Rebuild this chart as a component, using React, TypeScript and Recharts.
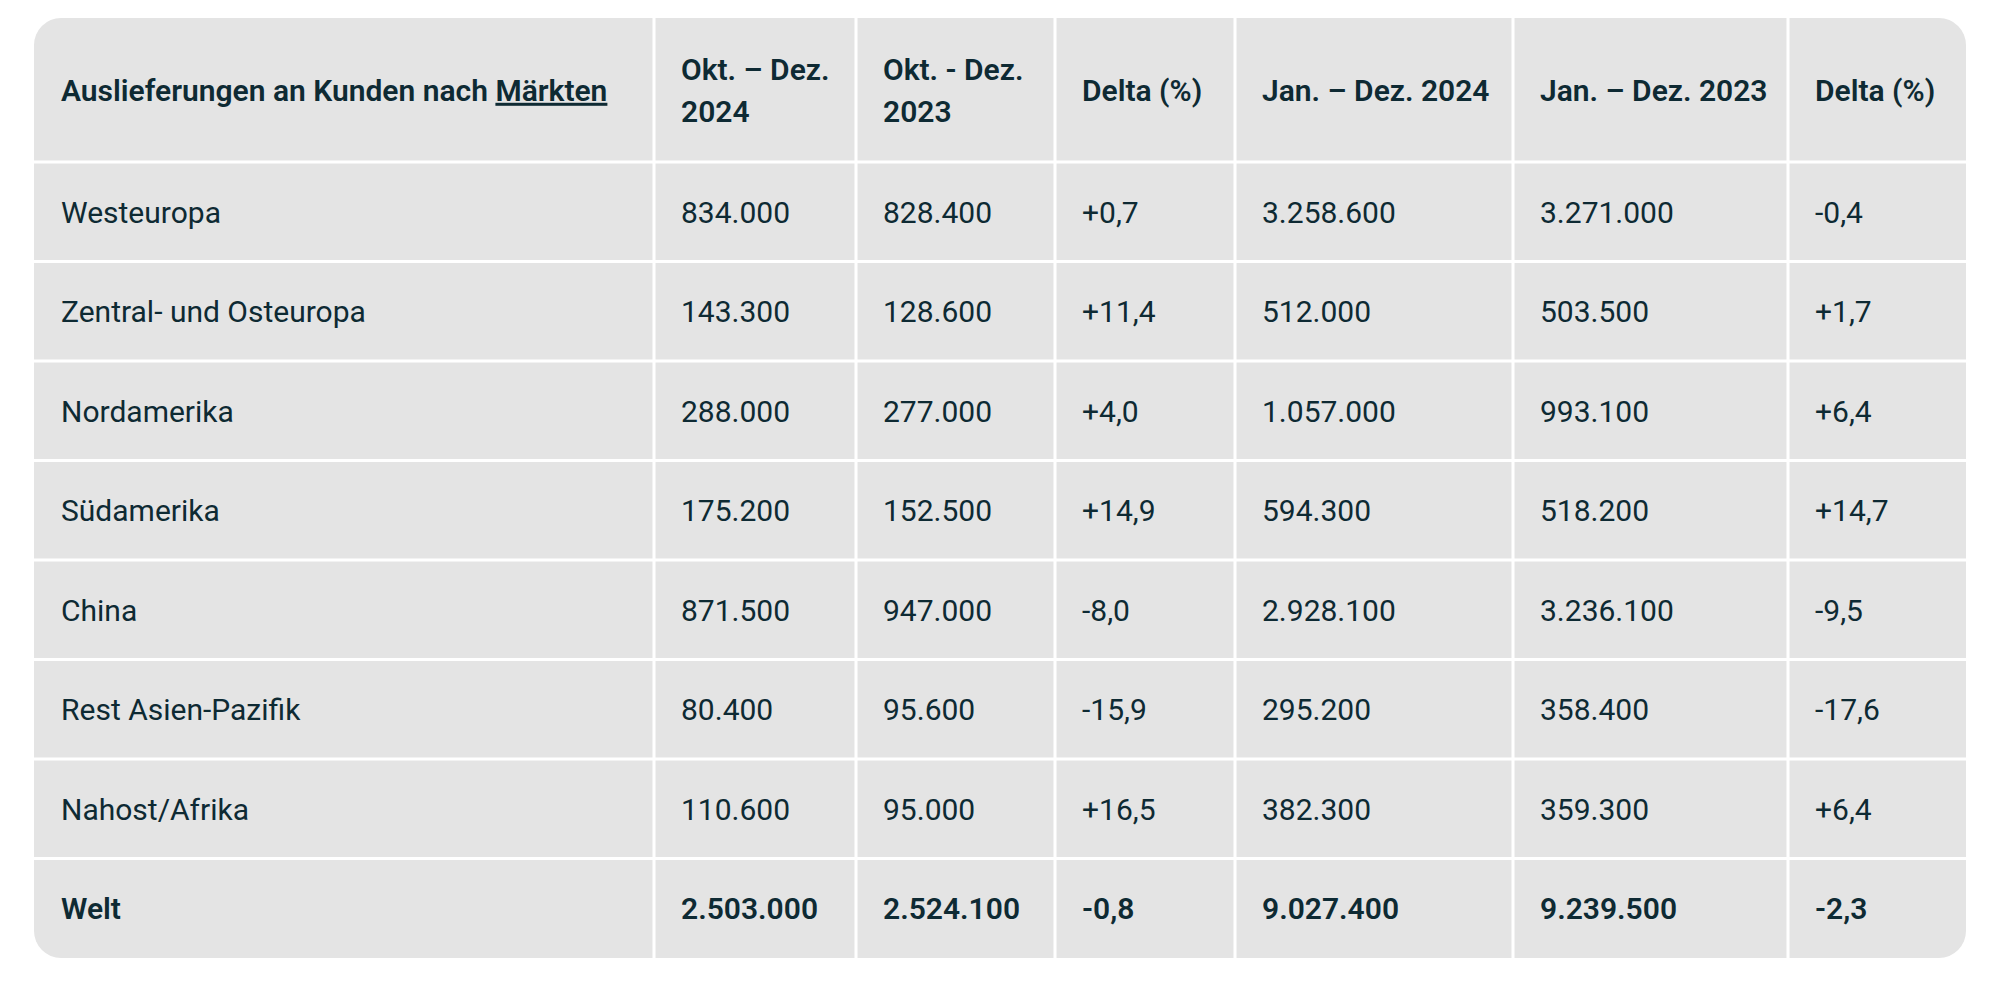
import { ScatterChart, Scatter, XAxis, YAxis, ReferenceArea, ReferenceLine } from "recharts";

// ---- data ----
const MARKETS = [
  "Westeuropa",
  "Zentral- und Osteuropa",
  "Nordamerika",
  "Südamerika",
  "China",
  "Rest Asien-Pazifik",
  "Nahost/Afrika",
];
const TOTAL_LABEL = "Welt";

const Q4_2024 = [834000, 143300, 288000, 175200, 871500, 80400, 110600];
const Q4_2023 = [828400, 128600, 277000, 152500, 947000, 95600, 95000];
const DELTA_Q4 = [0.7, 11.4, 4.0, 14.9, -8.0, -15.9, 16.5];
const FY_2024 = [3258600, 512000, 1057000, 594300, 2928100, 295200, 382300];
const FY_2023 = [3271000, 503500, 993100, 518200, 3236100, 358400, 359300];
const DELTA_FY = [-0.4, 1.7, 6.4, 14.7, -9.5, -17.6, 6.4];

const TOTAL_Q4_2024 = 2503000;
const TOTAL_Q4_2023 = 2524100;
const TOTAL_DELTA_Q4 = -0.8;
const TOTAL_FY_2024 = 9027400;
const TOTAL_FY_2023 = 9239500;
const TOTAL_DELTA_FY = -2.3;

const HEADERS = [
  ["Auslieferungen an Kunden nach Märkten"],
  ["Okt. – Dez.", "2024"],
  ["Okt. - Dez.", "2023"],
  ["Delta (%)"],
  ["Jan. – Dez. 2024"],
  ["Jan. – Dez. 2023"],
  ["Delta (%)"],
];
const UNDERLINED = "Märkten";

// ---- layout / style ----
const W = 2000;
const H = 986;
const MARGIN = { top: 18, right: 34, bottom: 28, left: 34 };
const COL_WIDTHS = [620, 202, 199, 180, 278, 275, 178];
const HEADER_H = 144;
const ROW_H = 99.5;
const PAD = 27;
const FONT = 30;
const LINE_H = 42;
const INK = "#0e2a33";
const BG = "#e4e4e4";

const TABLE_W = COL_WIDTHS.reduce((a, b) => a + b, 0);
const N_ROWS = MARKETS.length + 1;
const TABLE_H = HEADER_H + ROW_H * N_ROWS;

const colStarts = COL_WIDTHS.map((_, i) => COL_WIDTHS.slice(0, i).reduce((a, b) => a + b, 0));
const rowLines = Array.from({ length: N_ROWS }, (_, i) => HEADER_H + ROW_H * i);

function fmtInt(n: number): string {
  return String(n).replace(/\B(?=(\d{3})+(?!\d))/g, ".");
}

function fmtDelta(n: number): string {
  const s = Math.abs(n).toFixed(1).replace(".", ",");
  return (n >= 0 ? "+" : "-") + s;
}

type Cell = { x: number; y: number; lines: string[]; bold: boolean };

const cells: Cell[] = [];
HEADERS.forEach((lines, c) => {
  cells.push({ x: colStarts[c] + PAD, y: HEADER_H / 2, lines, bold: true });
});
MARKETS.forEach((name, i) => {
  const vals = [
    name,
    fmtInt(Q4_2024[i]),
    fmtInt(Q4_2023[i]),
    fmtDelta(DELTA_Q4[i]),
    fmtInt(FY_2024[i]),
    fmtInt(FY_2023[i]),
    fmtDelta(DELTA_FY[i]),
  ];
  vals.forEach((v, c) => {
    cells.push({ x: colStarts[c] + PAD, y: HEADER_H + ROW_H * (i + 0.5), lines: [v], bold: false });
  });
});
[
  TOTAL_LABEL,
  fmtInt(TOTAL_Q4_2024),
  fmtInt(TOTAL_Q4_2023),
  fmtDelta(TOTAL_DELTA_Q4),
  fmtInt(TOTAL_FY_2024),
  fmtInt(TOTAL_FY_2023),
  fmtDelta(TOTAL_DELTA_FY),
].forEach((v, c) => {
  cells.push({ x: colStarts[c] + PAD, y: HEADER_H + ROW_H * (MARKETS.length + 0.5), lines: [v], bold: true });
});

function renderLine(line: string) {
  const idx = line.indexOf(UNDERLINED);
  if (idx < 0) return line;
  return (
    <>
      {line.slice(0, idx)}
      <tspan textDecoration="underline">{UNDERLINED}</tspan>
      {line.slice(idx + UNDERLINED.length)}
    </>
  );
}

function CellText(props: any) {
  const { cx, cy, payload } = props;
  const lines: string[] = payload.lines;
  const top = cy - ((lines.length - 1) * LINE_H) / 2;
  return (
    <text
      fontFamily="Roboto, 'Noto Sans', sans-serif"
      fontSize={FONT}
      fontWeight={payload.bold ? 600 : 400}
      fill={INK}
    >
      {lines.map((ln, k) => (
        <tspan key={k} x={cx} y={top + k * LINE_H + FONT * 0.36}>
          {renderLine(ln)}
        </tspan>
      ))}
    </text>
  );
}

export default function App() {
  return (
    <div style={{ position: "absolute", left: 0, top: 0, background: "#fff" }}>
      <ScatterChart width={W} height={H} margin={MARGIN}>
        <XAxis type="number" dataKey="x" domain={[0, TABLE_W]} allowDataOverflow hide />
        <YAxis type="number" dataKey="y" domain={[0, TABLE_H]} allowDataOverflow reversed hide />
        <ReferenceArea
          x1={0}
          x2={TABLE_W}
          y1={0}
          y2={TABLE_H}
          shape={(p: any) => (
            <rect x={p.x} y={p.y} width={p.width} height={p.height} rx={27} ry={27} fill={BG} />
          )}
        />
        {colStarts.slice(1).map((x) => (
          <ReferenceLine key={"c" + x} x={x} stroke="#ffffff" strokeWidth={3} />
        ))}
        {rowLines.map((y) => (
          <ReferenceLine key={"r" + y} y={y} stroke="#ffffff" strokeWidth={3} />
        ))}
        <Scatter data={cells} shape={CellText} isAnimationActive={false} />
      </ScatterChart>
    </div>
  );
}
